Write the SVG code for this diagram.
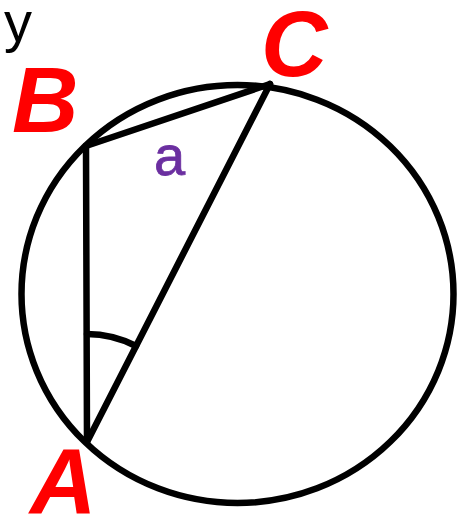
<svg xmlns="http://www.w3.org/2000/svg" width="471" height="519" viewBox="0 0 471 519">
<style>
.ln{fill:none;stroke:#000;stroke-width:6.5;stroke-linecap:round}
.pt{font-family:"Liberation Sans",Arial,sans-serif;font-weight:bold;font-style:italic;font-size:92px;fill:#f00}
.lb{font-family:"Liberation Sans",Arial,sans-serif;font-size:56px}
</style>
<rect width="471" height="519" fill="#fff"/>
<g id="circle"><ellipse class="ln" cx="237.5" cy="294" rx="216" ry="209"/></g>
<g id="connectors">
<line class="ln" x1="87" y1="442" x2="86" y2="146"/>
<line class="ln" x1="87" y1="442" x2="270" y2="84"/>
<line class="ln" x1="86" y1="146" x2="270" y2="84"/>
<path class="ln" stroke-width="5.5" d="M87,334 A108,108 0 0 1 136,346"/>
</g>
<g id="label-y"><text class="lb" x="4" y="41" fill="#000">y</text></g>
<g id="B"><text class="pt" x="12" y="132">B</text></g>
<g id="C"><text class="pt" x="261" y="76">C</text></g>
<g id="A"><text class="pt" x="30" y="513">A</text></g>
<g id="label-a"><text class="lb" x="154" y="175" fill="#6b2fa0" stroke="#6b2fa0" stroke-width="0.8">a</text></g>
</svg>
